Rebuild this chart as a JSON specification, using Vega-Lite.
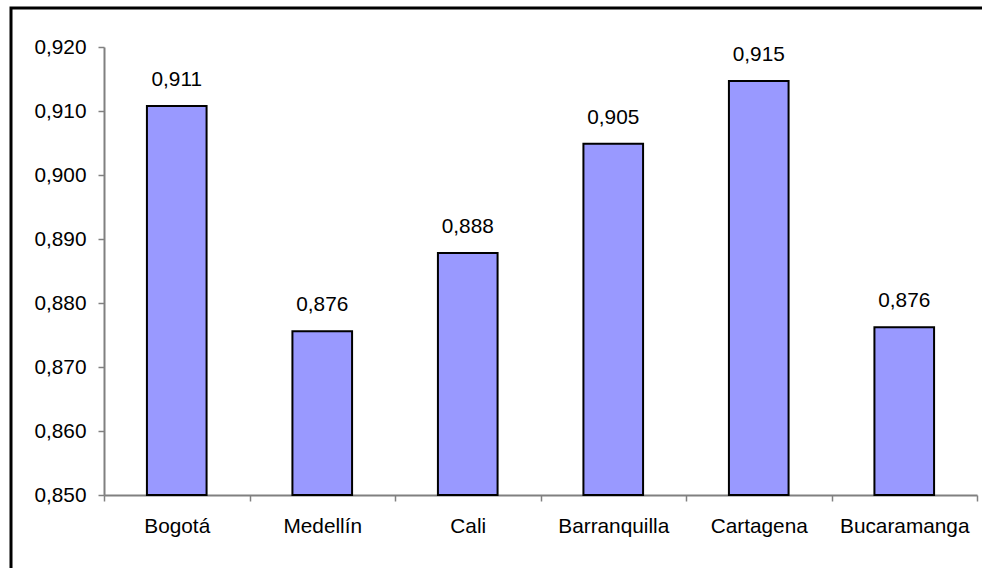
{
  "$schema": "https://vega.github.io/schema/vega-lite/v6.json",
  "autosize": {"type": "none"},
  "width": 971,
  "height": 560,
  "padding": {"left": 11, "top": 8, "right": 0, "bottom": 0},
  "background": "white",
  "config": {
    "locale": {"number": {"decimal": ",", "thousands": ".", "grouping": [3], "currency": ["", ""]}},
    "view": {"stroke": "black", "strokeWidth": 3, "strokeDash": [971, 1531, 560], "strokeCap": "square", "fill": "white"},
    "font": "Liberation Sans",
    "axis": {"labelFont": "Liberation Sans", "labelColor": "black", "labelFontSize": 20.8, "grid": false, "title": null,
             "domainColor": "#808080", "domainWidth": 2, "tickColor": "#808080", "tickWidth": 1.5, "tickSize": 6}
  },
  "data": {"values": [
    {"city": "Bogotá", "value": 0.9108},
    {"city": "Medellín", "value": 0.8756},
    {"city": "Cali", "value": 0.8878},
    {"city": "Barranquilla", "value": 0.9049},
    {"city": "Cartagena", "value": 0.9147},
    {"city": "Bucaramanga", "value": 0.8762}
  ]},
  "encoding": {
    "x": {"field": "city", "type": "nominal", "sort": null,
          "scale": {"type": "band", "range": [93, 966], "paddingInner": 0, "paddingOuter": 0},
          "axis": {"orient": "bottom", "offset": -73, "labelAngle": 0, "labelPadding": 15, "tickBand": "extent"}},
    "y": {"field": "value", "type": "quantitative",
          "scale": {"domain": [0.85, 0.92], "range": [487, 39], "zero": false, "nice": false},
          "axis": {"orient": "left", "offset": -93, "values": [0.85, 0.86, 0.87, 0.88, 0.89, 0.9, 0.91, 0.92], "format": ".3f", "labelPadding": 12}}
  },
  "layer": [
    {"mark": {"type": "bar", "width": {"band": 0.41}, "fill": "#9999FF", "stroke": "black", "strokeWidth": 2},
     "encoding": {"y2": {"datum": 0.85}}},
    {"mark": {"type": "text", "dy": -20, "baseline": "alphabetic", "align": "center", "fontSize": 20.8, "font": "Liberation Sans", "color": "black"},
     "encoding": {"text": {"field": "value", "type": "quantitative", "format": ".3f"}}}
  ]
}
